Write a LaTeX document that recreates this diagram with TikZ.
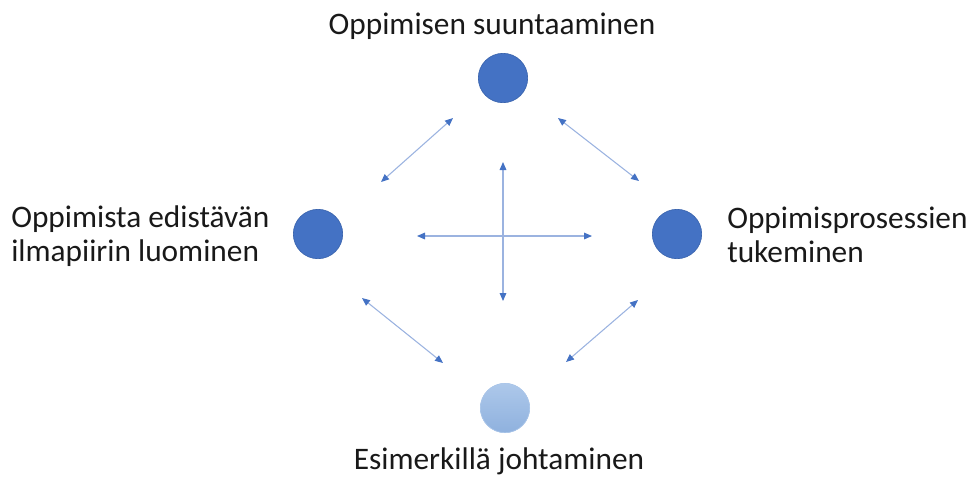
\documentclass[tikz,border=0pt]{standalone}
\usepackage{fontspec}
\setmainfont{Carlito}
\usepackage{tikz}
\usetikzlibrary{arrows.meta,positioning,calc}
\definecolor{DotBlue}{HTML}{4472C4}
\definecolor{DotEdge}{HTML}{3A64AE}
\definecolor{LinkBlue}{HTML}{9BB3E0}
\definecolor{PaleTop}{HTML}{ADC8EA}
\definecolor{PaleBottom}{HTML}{8FB1DE}

\begin{document}
\begin{tikzpicture}[x=0.75pt,y=-0.75pt,
  dot/.style={circle,draw=DotEdge,line width=0.5pt,fill=DotBlue,minimum size=37pt,inner sep=0pt},
  label/.style={font=\fontsize{23.5}{25}\selectfont,text=black!90,inner sep=0pt},
  link/.style={draw=LinkBlue,line width=0.8pt,{Triangle[length=6pt,width=5pt,color=DotBlue]}-{Triangle[length=6pt,width=5pt,color=DotBlue]}}]
  \useasboundingbox (0,0) rectangle (973,476);
  % the four circles
  \node[dot] (top) at (503,78) {};
  \node[dot] (left) at (318,234) {};
  \node[dot] (right) at (677,234) {};
  \node[dot,draw=PaleTop,top color=PaleTop,bottom color=PaleBottom] (bottom) at (505,408) {};
  % texts (base = last line)
  \node[label,anchor=base] (toptext) at (492,34) {Oppimisen suuntaaminen};
  \node[label,anchor=base west,align=left] (lefttext) at (11,261) {Oppimista edistävän\\ilmapiirin luominen};
  \node[label,anchor=base west,align=left] (righttext) at (727,262) {Oppimisprosessien\\tukeminen};
  \node[label,anchor=base] (bottomtext) at (499,469) {Esimerkillä johtaminen};
  % arrow ends
  \coordinate (tl1) at (381,182);
  \coordinate (tl2) at (453,118);
  \coordinate (tr1) at (558,118);
  \coordinate (tr2) at (639,181);
  \coordinate (bl1) at (362,298);
  \coordinate (bl2) at (443,363);
  \coordinate (br1) at (638,300);
  \coordinate (br2) at (566,362);
  \coordinate (vt) at (503,162);
  \coordinate (vb) at (503,301);
  \coordinate (hl) at (417,236);
  \coordinate (hr) at (592,236);
  \foreach \a/\b in {tl1/tl2,tr1/tr2,bl1/bl2,br1/br2,vt/vb,hl/hr}{
    \draw[link] (\a) -- (\b);
  }
\end{tikzpicture}
\end{document}
